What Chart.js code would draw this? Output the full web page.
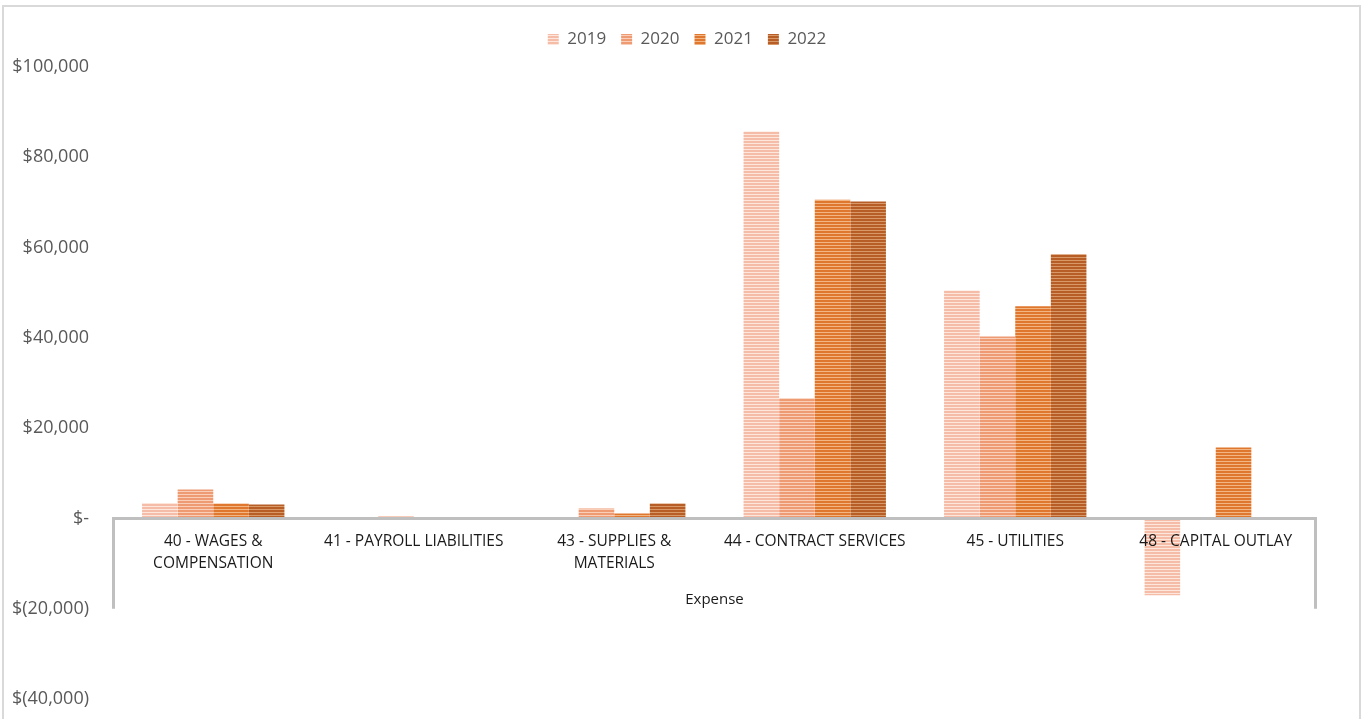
<!DOCTYPE html>
<html>
<head>
<meta charset="utf-8">
<script src="https://cdn.jsdelivr.net/npm/chart.js@4.4.0/dist/chart.umd.min.js"></script>
<style>
    html, body { margin: 0; padding: 0; background: #fff; }
    #wrap { width: 1362px; height: 719px; }
</style>
</head>
<body>
<div id="wrap"><canvas id="expenseChart" width="1362" height="719"></canvas></div>
<script>
const categories = [
    ['40 - WAGES &', 'COMPENSATION'],
    '41 - PAYROLL LIABILITIES',
    ['43 - SUPPLIES &', 'MATERIALS'],
    '44 - CONTRACT SERVICES',
    '45 - UTILITIES',
    '48 - CAPITAL OUTLAY'
];
const years = ['2019', '2020', '2021', '2022'];
const values2019 = [3400, 200, 300, 85700, 50500, -17000];
const values2020 = [6400, 450, 2200, 26600, 40300, 0];
const values2021 = [3300, 0, 1100, 70600, 47000, 15700];
const values2022 = [3100, 100, 3300, 70200, 58500, 0];

// stripe colours per year: [line, gap]
const stripeColors = [
    ['#f5bda8', '#fde6dc'],
    ['#ee9a72', '#f9cfb9'],
    ['#e0772e', '#f2b685'],
    ['#b65e26', '#d99868']
];

function hatch(line, gap) {
    const c = document.createElement('canvas');
    c.width = 4;
    c.height = 3;
    const g = c.getContext('2d');
    g.fillStyle = gap;
    g.fillRect(0, 0, 4, 3);
    g.fillStyle = line;
    g.fillRect(0, 0, 4, 2);
    return g.createPattern(c, 'repeat');
}

function money(v) {
    if (v === 0) return '$-';
    const s = Math.abs(v).toLocaleString('en-US');
    return v < 0 ? '$(' + s + ')' : '$' + s;
}

Chart.defaults.font.family = "'Open Sans', sans-serif";

const seriesValues = [values2019, values2020, values2021, values2022];
const datasets = years.map((y, i) => ({
    label: y,
    data: seriesValues[i],
    backgroundColor: hatch(stripeColors[i][0], stripeColors[i][1]),
    borderWidth: 0,
    categoryPercentage: 0.71,
    barPercentage: 1
}));

// the end posts of the category axis and the outer frame
const axisFrame = {
    id: 'axisFrame',
    afterInit(chart) {
        // a bit more room between legend and plot
        const fit = chart.legend.fit;
        chart.legend.fit = function () {
            fit.call(this);
            this.height += 9;
        };
    },
    afterLayout(chart) {
        // legend sits centred on the whole frame, not the plot
        chart.legend.left += 29;
        chart.legend.right += 29;
    },
    afterDraw(chart) {
        const { ctx, chartArea, scales } = chart;
        const y0 = scales.y.getPixelForValue(0);
        const y1 = scales.y.getPixelForValue(-20000);
        ctx.save();
        ctx.strokeStyle = '#bfbfbf';
        ctx.lineWidth = 3;
        ctx.beginPath();
        ctx.moveTo(chartArea.left + 0.5, y0);
        ctx.lineTo(chartArea.left + 0.5, y1);
        ctx.moveTo(chartArea.right - 0.5, y0);
        ctx.lineTo(chartArea.right - 0.5, y1);
        ctx.stroke();
        ctx.strokeStyle = '#d9d9d9';
        ctx.lineWidth = 2;
        ctx.strokeRect(3, 6, chart.width - 5, chart.height + 10);
        ctx.restore();
    }
};

new Chart(document.getElementById('expenseChart'), {
    type: 'bar',
    data: { labels: categories, datasets },
    options: {
        responsive: false,
        animation: false,
        layout: { padding: { top: 16, right: 46, bottom: 20, left: 0 } },
        plugins: {
            legend: {
                position: 'top',
                labels: {
                    color: '#595959',
                    font: { size: 17 },
                    boxWidth: 11,
                    boxHeight: 11,
                    padding: 15
                }
            },
            tooltip: { enabled: false }
        },
        scales: {
            x: {
                position: { y: 0 },
                grid: { display: false, drawTicks: false },
                border: { color: '#bfbfbf', width: 3, z: 1 },
                ticks: {
                    z: 1,
                    color: '#1a1a1a',
                    font: { size: 15.5, lineHeight: 1.42 },
                    padding: 12,
                    maxRotation: 0,
                    autoSkip: false
                },
                title: {
                    display: true,
                    text: 'Expense',
                    color: '#1a1a1a',
                    font: { size: 15, lineHeight: 1.3 },
                    padding: { top: 4, bottom: 0 }
                }
            },
            y: {
                min: -40000,
                max: 100000,
                grid: { display: false, drawTicks: false },
                border: { display: false },
                afterFit(scale) {
                    scale.width = 113;
                    scale.paddingTop = 0;
                    scale.paddingBottom = 0;
                },
                ticks: {
                    stepSize: 20000,
                    color: '#595959',
                    font: { size: 18 },
                    padding: 24,
                    callback: v => money(v)
                }
            }
        }
    },
    plugins: [axisFrame]
});
</script>
</body>
</html>
